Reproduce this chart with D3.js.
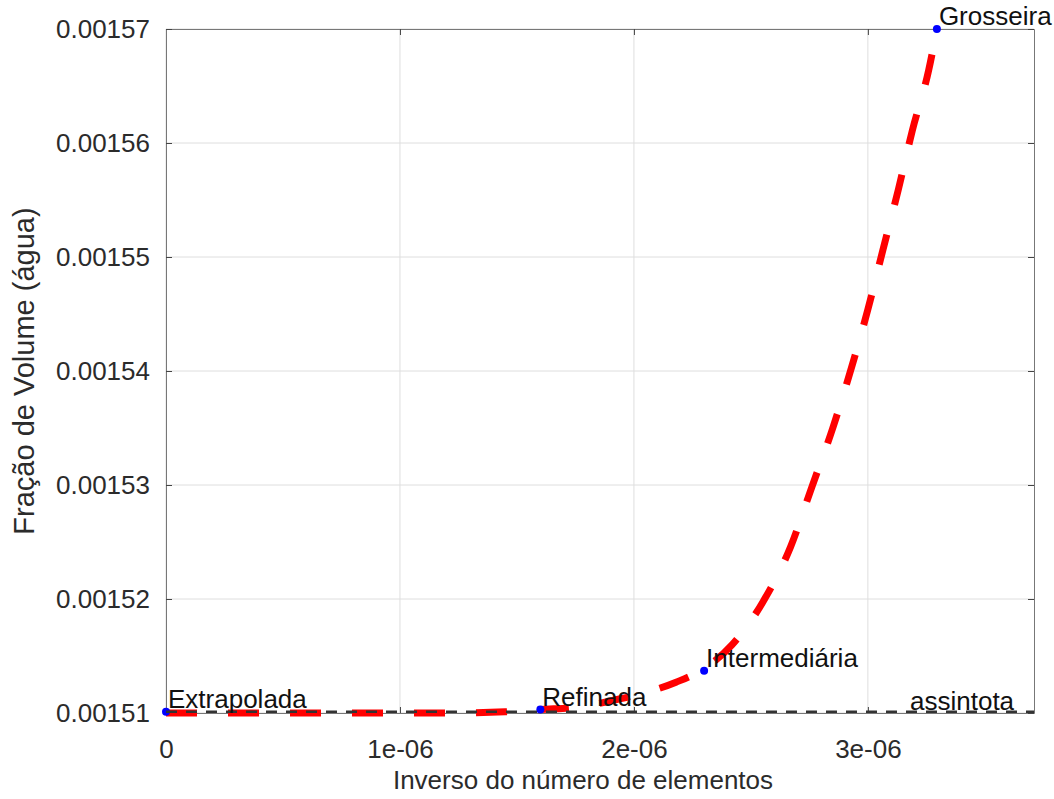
<!DOCTYPE html>
<html>
<head>
<meta charset="utf-8">
<script src="https://cdn.jsdelivr.net/npm/d3@7"></script>
<style>
  body { margin: 0; background: #fff; }
  text { font-family: "Liberation Sans", Arial, Helvetica, sans-serif; }
</style>
</head>
<body>
<svg id="svg1" width="1054" height="799"></svg>
<script>
var svgWidth = 1054;
var svgHeight = 799;
var padding = {t: 29, r: 20, b: 86, l: 166};
var chartWidth = svgWidth - padding.l - padding.r;
var chartHeight = svgHeight - padding.t - padding.b;

// named mesh points
var pointNames = ['Extrapolada', 'Refinada', 'Intermediária', 'Grosseira'];
var pointX = [0, 1.6e-6, 2.3e-6, 3.295e-6];
var pointY = [0.0015101, 0.0015103, 0.0015137, 0.00157];

// red fitted curve
var curveX = [0, 0.57e-6, 1.21e-6, 1.45e-6, 1.60e-6, 1.79e-6, 1.91e-6, 2.05e-6, 2.18e-6, 2.30e-6,
              2.42e-6, 2.55e-6, 2.67e-6, 2.76e-6, 2.85e-6, 2.93e-6, 3.00e-6, 3.064e-6, 3.13e-6,
              3.19e-6, 3.26e-6, 3.295e-6];
var curveY = [0.0015100, 0.0015100, 0.0015100, 0.0015101, 0.0015103, 0.0015106, 0.0015111, 0.0015118,
              0.0015127, 0.0015139, 0.0015160, 0.0015197, 0.0015246, 0.0015298, 0.0015350, 0.0015403,
              0.0015454, 0.0015506, 0.0015559, 0.0015611, 0.0015664, 0.00157];

// asymptote
var asymptoteY = 0.0015101;
var asymptoteLabel = 'assintota';
var asymptoteLabelX = 3.18e-6;

var xDomain = [0, 3.71e-6];
var yDomain = [0.00151, 0.00157];
var xTicks = [0, 1e-6, 2e-6, 3e-6];
var xTickLabels = ['0', '1e-06', '2e-06', '3e-06'];
var yTicks = [0.00151, 0.00152, 0.00153, 0.00154, 0.00155, 0.00156, 0.00157];
var yTickLabels = ['0.00151', '0.00152', '0.00153', '0.00154', '0.00155', '0.00156', '0.00157'];

var svg = d3.select('#svg1');

var xScale = d3.scaleLinear().domain(xDomain).range([0, chartWidth]);
var yScale = d3.scaleLinear().domain(yDomain).range([chartHeight, 0]);

var chart = svg.append('g')
    .attr('transform', 'translate(' + [padding.l, padding.t] + ')');

// grid
chart.append('g').attr('class', 'grid')
    .selectAll('line.gx').data(xTicks).enter().append('line')
    .attr('x1', function(d) { return xScale(d); })
    .attr('x2', function(d) { return xScale(d); })
    .attr('y1', 0).attr('y2', chartHeight)
    .attr('stroke', '#dedede').attr('stroke-width', 1);
chart.select('.grid')
    .selectAll('line.gy').data(yTicks).enter().append('line')
    .attr('x1', 0).attr('x2', chartWidth)
    .attr('y1', function(d) { return yScale(d); })
    .attr('y2', function(d) { return yScale(d); })
    .attr('stroke', '#dedede').attr('stroke-width', 1);

// axes (ticks inward, box on all sides)
function styleAxis(g) {
    g.select('.domain').attr('stroke', '#777');
    g.selectAll('.tick line').attr('stroke', '#444');
    g.selectAll('.tick text').attr('fill', '#2b2b2b')
        .style('font-size', '26px')
        .attr('font-family', '"Liberation Sans", Arial, sans-serif');
}

chart.append('g')
    .attr('transform', 'translate(0,' + chartHeight + ')')
    .call(d3.axisBottom(xScale).tickValues(xTicks)
        .tickFormat(function(d, i) { return xTickLabels[i]; })
        .tickSizeInner(-6).tickSizeOuter(0).tickPadding(27))
    .call(styleAxis);

chart.append('g')
    .call(d3.axisTop(xScale).tickValues(xTicks).tickFormat('')
        .tickSizeInner(-6).tickSizeOuter(0))
    .call(styleAxis);

chart.append('g')
    .call(d3.axisLeft(yScale).tickValues(yTicks)
        .tickFormat(function(d, i) { return yTickLabels[i]; })
        .tickSizeInner(-6).tickSizeOuter(0).tickPadding(16))
    .call(styleAxis);

chart.append('g')
    .attr('transform', 'translate(' + chartWidth + ',0)')
    .call(d3.axisRight(yScale).tickValues(yTicks).tickFormat('')
        .tickSizeInner(-6).tickSizeOuter(0))
    .call(styleAxis);

// red fitted curve
var curveData = curveX.map(function(x, i) { return [x, curveY[i]]; });
var line = d3.line()
    .x(function(d) { return xScale(d[0]); })
    .y(function(d) { return yScale(d[1]); })
    .curve(d3.curveMonotoneX);

chart.append('path')
    .datum(curveData)
    .attr('d', line)
    .attr('fill', 'none')
    .attr('stroke', '#ff0000')
    .attr('stroke-width', 7)
    .attr('stroke-dasharray', '31,31');

// blue points
var pts = pointX.map(function(x, i) { return {x: x, y: pointY[i], name: pointNames[i]}; });
chart.selectAll('circle.pt').data(pts).enter().append('circle')
    .attr('class', 'pt')
    .attr('cx', function(d) { return xScale(d.x); })
    .attr('cy', function(d) { return yScale(d.y); })
    .attr('r', 4)
    .attr('fill', '#0000ff');

// asymptote
chart.append('line')
    .attr('x1', xScale(xDomain[0])).attr('x2', xScale(xDomain[1]))
    .attr('y1', yScale(asymptoteY)).attr('y2', yScale(asymptoteY))
    .attr('stroke', '#333')
    .attr('stroke-width', 2.5)
    .attr('stroke-dasharray', '11,9');

chart.append('text')
    .attr('x', xScale(asymptoteLabelX))
    .attr('y', yScale(asymptoteY) - 2)
    .text(asymptoteLabel)
    .style('font-size', '26px')
    .attr('fill', '#111');

// point labels
chart.selectAll('text.pl').data(pts).enter().append('text')
    .attr('class', 'pl')
    .attr('x', function(d) { return xScale(d.x) + 2; })
    .attr('y', function(d) { return yScale(d.y) - 4; })
    .text(function(d) { return d.name; })
    .style('font-size', '26px')
    .attr('fill', '#111');

// axis titles
svg.append('text')
    .attr('x', padding.l + chartWidth / 2 - 17)
    .attr('y', 789)
    .attr('text-anchor', 'middle')
    .text('Inverso do número de elementos')
    .style('font-size', '26px')
    .attr('fill', '#2b2b2b');

svg.append('text')
    .attr('transform', 'translate(' + [34, padding.t + chartHeight / 2] + ') rotate(-90)')
    .attr('text-anchor', 'middle')
    .text('Fração de Volume (água)')
    .style('font-size', '29px')
    .attr('fill', '#2b2b2b');
</script>
</body>
</html>
